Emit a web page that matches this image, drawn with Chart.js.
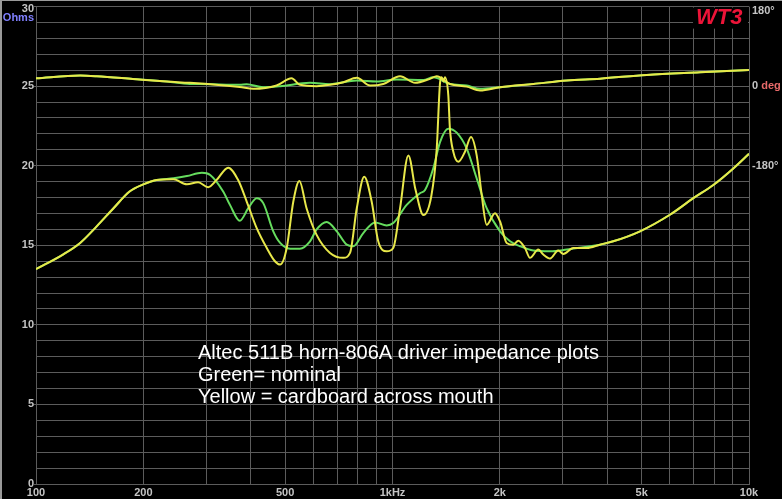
<!DOCTYPE html>
<html>
<head>
<meta charset="utf-8">
<title>Altec 511B impedance</title>
<script src="https://cdn.jsdelivr.net/npm/chart.js@4/dist/chart.umd.min.js"></script>
<style>
  html, body { margin: 0; padding: 0; background: #000; }
  canvas { display: block; }
</style>
</head>
<body>
<canvas id="chart" width="782" height="499"></canvas>
<script>
// impedance, green = nominal
const freqGreen = [100, 119, 133, 148, 165, 183, 200, 218, 243, 265, 292, 308, 335, 350, 373, 394, 416, 434, 463, 484, 516, 550, 587, 612, 654, 698, 744, 776, 828, 893, 963, 1005, 1096, 1194, 1234, 1301, 1360, 1434, 1514, 1615, 1722, 1837, 2003, 2137, 2279, 2483, 2766, 3081, 3430, 3820, 4161, 4946, 6000, 6980, 7943, 9036, 10000];
const ohmsGreen = [13.5, 14.42, 15.15, 16.19, 17.33, 18.38, 18.83, 19.1, 19.21, 19.35, 19.56, 19.42, 18.38, 17.54, 16.54, 17.33, 17.96, 17.65, 15.88, 15.15, 14.79, 14.79, 15.25, 15.98, 16.46, 15.88, 15.04, 14.94, 15.77, 16.44, 16.25, 16.4, 17.54, 18.27, 18.48, 19.83, 21.5, 22.33, 22.08, 21.08, 19.21, 17.33, 15.88, 15.25, 14.94, 14.67, 14.62, 14.73, 14.88, 15.04, 15.25, 15.88, 16.92, 17.96, 18.79, 19.83, 20.75];

// impedance, yellow = cardboard across mouth
const freqYellow = [100, 119, 133, 148, 165, 183, 200, 218, 243, 265, 285, 304, 321, 346, 369, 390, 416, 444, 468, 484, 505, 527, 548, 574, 612, 668, 728, 760, 794, 833, 874, 912, 963, 1005, 1050, 1108, 1160, 1221, 1285, 1330, 1360, 1374, 1390, 1403, 1434, 1449, 1481, 1530, 1597, 1660, 1722, 1779, 1837, 1939, 2003, 2090, 2182, 2254, 2353, 2430, 2564, 2649, 2766, 2917, 3014, 3215, 3505, 3820, 4161, 4946, 6000, 6980, 7943, 9036, 10000];
const ohmsYellow = [13.5, 14.42, 15.15, 16.19, 17.33, 18.38, 18.83, 19.1, 19.15, 18.83, 18.96, 18.65, 19.1, 19.88, 19.1, 17.75, 16.08, 14.83, 14.0, 13.79, 14.83, 17.75, 19.04, 17.33, 15.67, 14.52, 14.21, 14.52, 17.33, 19.31, 17.75, 15.25, 14.62, 14.83, 17.33, 20.65, 18.5, 16.9, 18.1, 21.0, 25.25, 25.56, 25.3, 25.56, 24.42, 22.33, 20.88, 20.25, 20.88, 21.81, 20.67, 18.17, 16.29, 17.02, 16.5, 15.15, 15.04, 15.29, 14.83, 14.21, 14.73, 14.42, 14.17, 14.67, 14.46, 14.83, 14.83, 15.04, 15.25, 15.88, 16.92, 17.96, 18.79, 19.83, 20.75];

// phase in degrees
const phaseFreqGreen = [100, 133, 148, 187, 233, 270, 288, 373, 390, 434, 484, 587, 668, 794, 903, 1028, 1221, 1301, 1449, 1615, 1760, 2003, 2483, 3081, 3820, 5164, 7287, 10000];
const phaseGreen = [18, 24, 22.5, 16.4, 10.5, 5, 5, 3, 4.5, -2.25, 0, 7.5, 4.5, 12.75, 10.5, 15, 14, 20, 5, 1.5, -6, -2.25, 5, 12.75, 17, 25.5, 31.5, 36.7];
const phaseFreqYellow = [100, 133, 148, 187, 233, 270, 373, 407, 473, 521, 550, 612, 668, 728, 794, 865, 942, 1050, 1157, 1274, 1330, 1449, 1615, 1760, 2003, 2483, 3081, 3820, 5164, 7287, 10000];
const phaseYellow = [18, 24, 22.5, 16.4, 10.5, 7.5, -2, -6, 1.5, 18, 3, 0, 3, 9, 18.8, 1.5, 5, 22.5, 7.5, 16.5, 22.5, 5, -1, -9.75, -2.25, 5, 12.75, 17, 25.5, 31.5, 36.7];

// axis ticks
const gridFreqs = [100, 200, 300, 400, 500, 600, 700, 800, 900, 1000, 2000, 3000, 4000, 5000, 6000, 7000, 8000, 9000, 10000];
const freqLabels = { 100: '100', 200: '200', 500: '500', 1000: '1kHz', 2000: '2k', 5000: '5k', 10000: '10k' };
const phaseLabels = [180, 0, -180];

const notes = [
  'Altec 511B horn-806A driver impedance plots',
  'Green= nominal',
  'Yellow = cardboard across mouth',
];

const GREEN = '#66dd5e';
const YELLOW = '#e8e84a';
const GRID = '#5c5c5c';
const LABEL = '#c4c4c4';
const LABEL_FONT = 'bold 11px "Liberation Sans", Arial, sans-serif';

function toPoints(xs, ys) {
  return xs.map((x, i) => ({ x: x, y: ys[i] }));
}

function lineSet(label, xs, ys, color, axis, order) {
  return {
    label: label,
    data: toPoints(xs, ys),
    borderColor: color,
    borderWidth: 2,
    pointRadius: 0,
    cubicInterpolationMode: 'monotone',
    yAxisID: axis,
    order: order,
  };
}

// frame, labels and the note text that are not part of the axes
const decorations = {
  id: 'decorations',
  beforeDraw(chart) {
    const ctx = chart.ctx;
    ctx.save();
    ctx.fillStyle = '#000';
    ctx.fillRect(0, 0, chart.width, chart.height);
    ctx.fillStyle = '#9a9a9a';
    ctx.fillRect(0, 0, 2, chart.height);
    ctx.fillRect(0, 0, chart.width, 1);
    ctx.restore();
  },
  afterDatasetsDraw(chart) {
    const ctx = chart.ctx;
    const area = chart.chartArea;
    const yp = chart.scales.yp;
    ctx.save();

    // top-left unit label
    ctx.font = LABEL_FONT;
    ctx.textAlign = 'right';
    ctx.textBaseline = 'middle';
    ctx.fillStyle = LABEL;
    ctx.fillText('30', area.left - 2, 9);
    ctx.fillStyle = '#8080ff';
    ctx.fillText('Ohms', area.left - 2, 18);

    // phase labels on the right
    ctx.textAlign = 'left';
    phaseLabels.forEach((deg) => {
      let y = yp.getPixelForValue(deg);
      if (deg === 180) y += 4;
      const x = area.right + 3;
      ctx.fillStyle = LABEL;
      if (deg === 0) {
        ctx.fillText('0 ', x, y);
        ctx.fillStyle = '#e86a6a';
        ctx.fillText('deg', x + ctx.measureText('0 ').width, y);
      } else {
        ctx.fillText(deg + '°', x, y);
      }
    });

    // WT3 logo
    ctx.fillStyle = '#000';
    ctx.fillRect(area.right - 56, area.top + 1, 55, 21);
    ctx.font = 'italic bold 22px "Liberation Sans", Arial, sans-serif';
    ctx.fillStyle = '#ec1438';
    ctx.textAlign = 'left';
    ctx.textBaseline = 'alphabetic';
    ctx.fillText('WT3', area.right - 53, 24);

    // note text
    ctx.font = '20px "Liberation Sans", Arial, sans-serif';
    ctx.fillStyle = '#ffffff';
    notes.forEach((line, i) => {
      ctx.fillText(line, 198, 359 + i * 22);
    });
    ctx.restore();
  },
};

const ctx = document.getElementById('chart').getContext('2d');

new Chart(ctx, {
  type: 'line',
  data: {
    datasets: [
      lineSet('Yellow impedance', freqYellow, ohmsYellow, YELLOW, 'y', 0),
      lineSet('Yellow phase', phaseFreqYellow, phaseYellow, YELLOW, 'yp', 1),
      lineSet('Green impedance', freqGreen, ohmsGreen, GREEN, 'y', 2),
      lineSet('Green phase', phaseFreqGreen, phaseGreen, GREEN, 'yp', 3),
    ],
  },
  options: {
    responsive: false,
    animation: false,
    layout: {
      padding: { top: 4, right: 33, left: 0, bottom: 0 },
    },
    plugins: {
      legend: { display: false },
      tooltip: { enabled: false },
    },
    scales: {
      x: {
        type: 'logarithmic',
        min: 100,
        max: 10000,
        afterBuildTicks: (scale) => {
          scale.ticks = gridFreqs.map((v) => ({ value: v }));
        },
        afterFit: (scale) => {
          scale.height = 15;
        },
        grid: {
          color: GRID,
          drawTicks: false,
        },
        border: { color: GRID },
        ticks: {
          autoSkip: false,
          maxRotation: 0,
          padding: 2,
          color: LABEL,
          font: { family: '"Liberation Sans", Arial, sans-serif', size: 11, weight: 'bold' },
          callback: (value) => freqLabels[value] || '',
        },
      },
      y: {
        type: 'linear',
        min: 0,
        max: 30,
        afterFit: (scale) => {
          scale.width = 36;
        },
        grid: {
          color: GRID,
          tickLength: 2,
          tickColor: (c) => (c.tick && c.tick.value % 5 === 0 ? GRID : 'transparent'),
        },
        border: { color: GRID },
        ticks: {
          stepSize: 1,
          autoSkip: false,
          padding: 0,
          color: LABEL,
          font: { family: '"Liberation Sans", Arial, sans-serif', size: 11, weight: 'bold' },
          callback: (value) => (value % 5 === 0 && value !== 30 ? String(value) : ''),
        },
      },
      yp: {
        type: 'linear',
        display: false,
        min: -900,
        max: 180,
      },
    },
  },
  plugins: [decorations],
});
</script>
</body>
</html>
